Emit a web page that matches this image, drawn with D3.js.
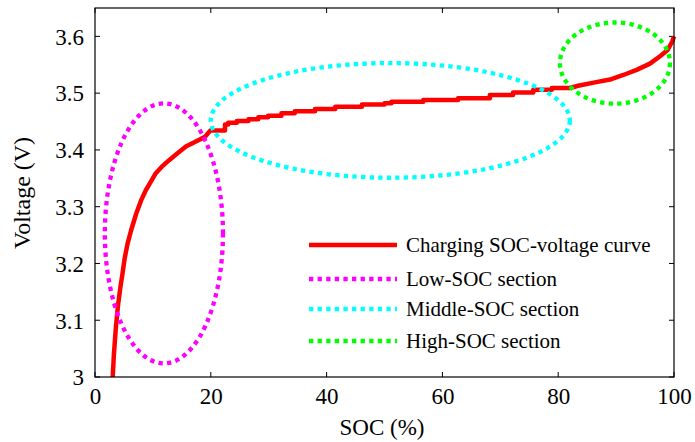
<!DOCTYPE html>
<head>
    <meta charset="utf-8">
    <title>SOC-voltage curve</title>
    <script src="https://d3js.org/d3.v7.min.js"></script>
    <style>
        body { margin: 0; background: #fff; }
        text { font-family: "Liberation Serif", "Times New Roman", serif; fill: #000; }
    </style>
</head>

<body>
    <div id="container"></div>
    <script>
        //------------------------1. DATA------------------------//
        // charging curve, stair levels: soc = end of level, volt = level
        var curveSoc = [3.06, 3.45, 3.74, 4.2, 4.6, 4.9, 5.35, 5.9, 6.6, 7.65, 8.35, 9.2, 10.1, 10.9, 12.1, 13.5,
            15.0, 16.4, 18.1, 19.9, 22.45, 23.0, 24.5, 26.5, 28.2, 29.9, 32.2, 34.5, 38.0, 41.5, 46.1, 50.0,
            51.2, 56.7, 62.7, 68.2, 72.2, 75.7, 78.9, 82.0, 84.9, 87.8, 90.1, 92.4, 94.7, 97.0, 98.4, 99.4, 100, 100]
        var curveVolt = [3.0, 3.038, 3.086, 3.126, 3.159, 3.182, 3.209, 3.235, 3.259, 3.288, 3.312, 3.329, 3.344, 3.359, 3.370, 3.382,
            3.394, 3.406, 3.414, 3.423, 3.434, 3.445, 3.448, 3.451, 3.454, 3.4575, 3.460, 3.4645, 3.468, 3.472, 3.476, 3.480,
            3.482, 3.485, 3.488, 3.491, 3.4968, 3.501, 3.506, 3.509, 3.513, 3.519, 3.524, 3.532, 3.541, 3.552, 3.566, 3.576, 3.591, 3.60]

        // section ellipses (centre and radii in data units)
        var sectionNames = ["Low-SOC section", "Middle-SOC section", "High-SOC section"]
        var sectionColors = ["#ff00ff", "#00ffff", "#00ff00"]
        var sectionSoc = [11.9, 51.0, 89.8]
        var sectionVolt = [3.253, 3.452, 3.553]
        var sectionSocR = [10.2, 31.0, 9.5]
        var sectionVoltR = [0.229, 0.101, 0.0715]

        var xTicks = [0, 20, 40, 60, 80, 100]
        var yTicks = [3, 3.1, 3.2, 3.3, 3.4, 3.5, 3.6]
        var yTickLabels = ["3", "3.1", "3.2", "3.3", "3.4", "3.5", "3.6"]

        //------------------------2. SVG------------------------//
        var W = 695, H = 442
        var margin = { top: 8, right: 21, bottom: 65, left: 95 }
        var width = W - margin.left - margin.right,
            height = H - margin.top - margin.bottom

        var x = d3.scaleLinear().domain([0, 100]).range([0, width])
        var y = d3.scaleLinear().domain([3, 3.65]).range([height, 0])

        var svg = d3.select("div#container").append("svg")
            .attr("width", W).attr("height", H)
        var g = svg.append("g")
            .attr("transform", "translate(" + margin.left + "," + margin.top + ")")

        //-----------------------------AXES-----------------------------//
        var tickLen = 5
        var xaxis = d3.axisBottom(x).tickValues(xTicks).tickSize(0).tickPadding(11)
        var yaxis = d3.axisLeft(y).tickValues(yTicks).tickSize(0).tickPadding(11)
            .tickFormat(function (d, i) { return yTickLabels[i]; })

        g.append("g").attr("transform", "translate(0," + height + ")").call(xaxis)
            .call(function (s) { s.select(".domain").remove(); })
            .selectAll("text").attr("font-size", 23).attr("dy", "0.71em")
        g.append("g").call(yaxis)
            .call(function (s) { s.select(".domain").remove(); })
            .selectAll("text").attr("font-size", 23).attr("dy", "0.34em")

        // inward ticks on all four sides
        var tk = g.append("g").attr("stroke", "#000").attr("stroke-width", 1)
        xTicks.forEach(function (t) {
            tk.append("line").attr("x1", x(t)).attr("x2", x(t)).attr("y1", height).attr("y2", height - tickLen)
            tk.append("line").attr("x1", x(t)).attr("x2", x(t)).attr("y1", 0).attr("y2", tickLen)
        })
        yTicks.forEach(function (t) {
            tk.append("line").attr("y1", y(t)).attr("y2", y(t)).attr("x1", 0).attr("x2", tickLen)
            tk.append("line").attr("y1", y(t)).attr("y2", y(t)).attr("x1", width).attr("x2", width - tickLen)
        })

        //----------------------------CURVE-----------------------------//
        // flat middle part is drawn as stairs, steep ends through level midpoints
        var pts = [[curveSoc[0], curveVolt[0]]]
        curveSoc.forEach(function (s, i) {
            if (i === 0) return
            if (s > 22 && s < 84) {
                pts.push([curveSoc[i - 1], curveVolt[i]])
                pts.push([s, curveVolt[i]])
            } else {
                pts.push([(curveSoc[i - 1] + s) / 2, curveVolt[i]])
            }
        })
        var line = d3.line()
            .x(function (d) { return x(d[0]); })
            .y(function (d) { return y(d[1]); })

        g.append("path").datum(pts)
            .attr("d", line)
            .attr("fill", "none")
            .attr("stroke", "#ff0000")
            .attr("stroke-width", 4.5)
            .attr("stroke-linejoin", "round")

        //---------------------------ELLIPSES---------------------------//
        var dash = "4.3,4.3"
        sectionNames.forEach(function (n, i) {
            g.append("ellipse")
                .attr("cx", x(sectionSoc[i]))
                .attr("cy", y(sectionVolt[i]))
                .attr("rx", x(sectionSoc[i] + sectionSocR[i]) - x(sectionSoc[i]))
                .attr("ry", y(sectionVolt[i] - sectionVoltR[i]) - y(sectionVolt[i]))
                .attr("fill", "none")
                .attr("stroke", sectionColors[i])
                .attr("stroke-width", 4.3)
                .attr("stroke-dasharray", dash)
        })

        // frame
        g.append("rect").attr("width", width).attr("height", height)
            .attr("fill", "none").attr("stroke", "#000").attr("stroke-width", 1.2)

        //----------------------------LEGEND----------------------------//
        var legendNames = ["Charging SOC-voltage curve"].concat(sectionNames)
        var legendColors = ["#ff0000"].concat(sectionColors)
        var lg = svg.append("g").attr("transform", "translate(309,245)")
        legendNames.forEach(function (n, i) {
            var ly = [0, 34, 64, 96][i]
            lg.append("line")
                .attr("x1", 0).attr("x2", 88).attr("y1", ly).attr("y2", ly)
                .attr("stroke", legendColors[i])
                .attr("stroke-width", i === 0 ? 4.5 : 4.3)
                .attr("stroke-dasharray", i === 0 ? null : dash)
            lg.append("text")
                .attr("x", 97).attr("y", ly).attr("dy", "0.33em")
                .attr("font-size", 21)
                .text(n)
        })

        //----------------------------LABELS----------------------------//
        svg.append("text")
            .attr("x", 382).attr("y", 435)
            .attr("text-anchor", "middle")
            .attr("font-size", 23)
            .text("SOC (%)")
        svg.append("text")
            .attr("transform", "translate(30,193) rotate(-90)")
            .attr("text-anchor", "middle")
            .attr("font-size", 24)
            .text("Voltage (V)")
    </script>
</body>
